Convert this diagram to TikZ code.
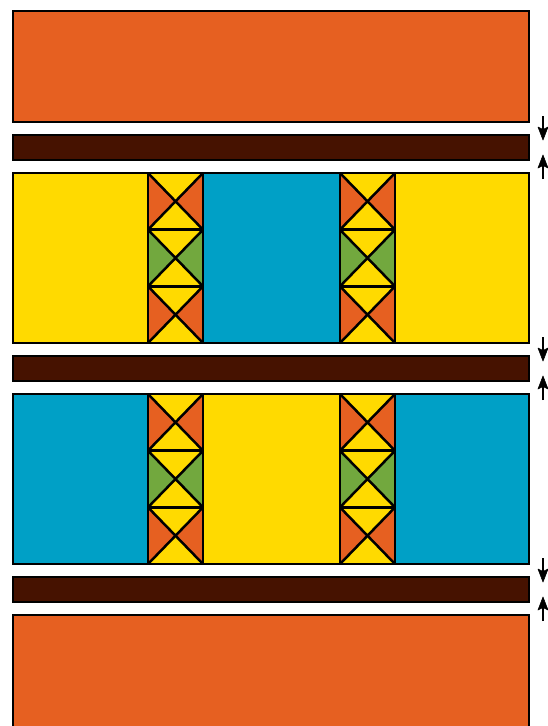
\documentclass[tikz,border=0pt]{standalone}
\begin{document}
\begin{tikzpicture}[x=1pt,y=-1pt,line width=2.5pt,line join=miter]
\definecolor{cOr}{HTML}{E66021}
\definecolor{cBr}{HTML}{461200}
\definecolor{cYe}{HTML}{FFDA00}
\definecolor{cBl}{HTML}{00A0C6}
\definecolor{cGr}{HTML}{72A83E}
\tikzset{blk/.style={draw=black},
  shaft/.style={line width=2.4pt},
  head/.style={fill=black,draw=black,line width=0.6pt,line join=round}}
\useasboundingbox (0,0) rectangle (548,726);
\begin{scope}
\clip (0,0) rectangle (548,726);
% top and bottom orange blocks
\filldraw[blk,fill=cOr] (13,11) rectangle (529,122);
\filldraw[blk,fill=cOr] (13,615) rectangle (529,740);
% bars and arrows
\foreach \y in {135,356,577}{
  \filldraw[blk,fill=cBr] (13,\y) rectangle (529,\y+25);
  \coordinate (t\y) at (543,\y+5);
  \coordinate (b\y) at (543,\y+20);
  \draw[shaft] (543,\y-19) -- (543,\y-4);
  \filldraw[head] (t\y) -- ++(-5,-13) -- ++(5,2.5) -- ++(5,-2.5) -- cycle;
  \draw[shaft] (543,\y+44) -- (543,\y+29);
  \filldraw[head] (b\y) -- ++(-5,13) -- ++(5,-2.5) -- ++(5,2.5) -- cycle;
}
% panels
\def\panel#1#2#3{% y top, outer color, inner color
  \filldraw[blk,fill=#2] (13,#1) rectangle (529,#1+170);
  \filldraw[blk,fill=#3] (203,#1) rectangle (340,#1+170);
  \foreach \x in {148,340}{
    \foreach \r/\cc in {0/cOr,1/cGr,2/cOr}{
      \pgfmathsetmacro{\ya}{#1+\r*56.67}
      \pgfmathsetmacro{\yb}{#1+(\r+1)*56.67}
      \pgfmathsetmacro{\ym}{(\ya+\yb)/2}
      \pgfmathsetmacro{\xm}{\x+27.5}
      \fill[cYe] (\x,\ya) rectangle (\x+55,\yb);
      \fill[\cc] (\x,\ya) -- (\xm,\ym) -- (\x,\yb) -- cycle;
      \fill[\cc] (\x+55,\ya) -- (\xm,\ym) -- (\x+55,\yb) -- cycle;
      \draw (\x,\ya) -- (\x+55,\yb) (\x+55,\ya) -- (\x,\yb);
      \draw (\x,\ya) rectangle (\x+55,\yb);
    }
  }
  \draw (13,#1) rectangle (529,#1+170);
}
\panel{173}{cYe}{cBl}
\panel{394}{cBl}{cYe}
\end{scope}
\end{tikzpicture}
\end{document}
